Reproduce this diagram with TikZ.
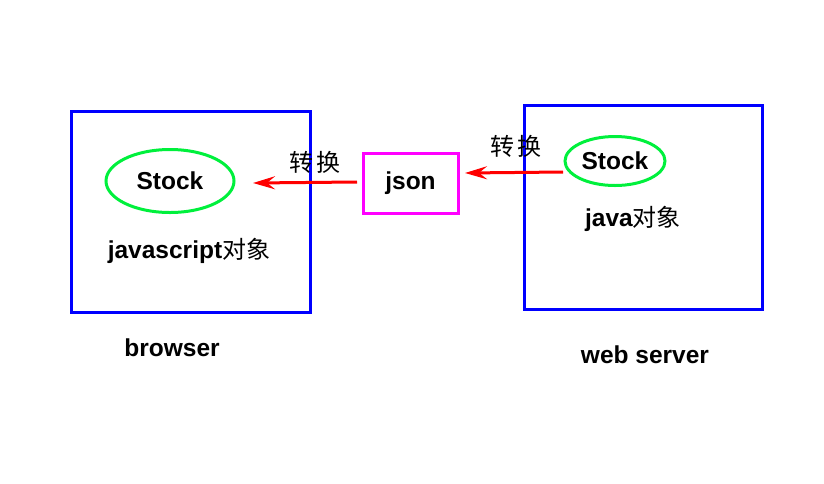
\documentclass[tikz,border=0pt]{standalone}
\usepackage{fontspec}
\setmainfont{Liberation Sans}
\newfontfamily\cjk{Noto Sans CJK SC}
\usetikzlibrary{arrows.meta,positioning}
\definecolor{boxblue}{RGB}{0,0,255}
\definecolor{ovalgreen}{RGB}{0,240,60}
\definecolor{jsonpink}{RGB}{255,0,255}
\definecolor{arrowred}{RGB}{255,0,0}
\tikzset{
  box/.style={draw=boxblue, line width=3pt, inner sep=0pt},
  oval/.style={draw=ovalgreen, line width=3pt, ellipse, inner sep=0pt, font=\fontsize{24.5}{26}\selectfont\bfseries},
  jsonbox/.style={draw=jsonpink, line width=3pt, inner sep=0pt, font=\fontsize{24.5}{26}\selectfont\bfseries},
  lbl/.style={font=\fontsize{24.5}{26}\selectfont\bfseries, inner sep=0pt},
  conv/.style={font=\fontsize{24}{26}\selectfont\cjk, inner sep=0pt},
  conv arrow/.style={draw=arrowred, line width=3pt, -{Stealth[length=22pt,width=13pt,inset=8pt]}}
}
\newcommand{\cjkword}[1]{{\cjk\fontsize{24}{26}\selectfont\mdseries #1}}
\usetikzlibrary{shapes.geometric}
\begin{document}
\begin{tikzpicture}[x=1pt,y=-1pt]
	\useasboundingbox (0,0) rectangle (824,483);
	% browser side
	\node[box, minimum width=239pt, minimum height=201pt] (browser) at (190.5,211.5) {};
	\node[oval, minimum width=128pt, minimum height=63pt] (jsstock) at (170,181) {Stock};
	\node[lbl] (jsobj) at (189,251) {javascript\cjkword{对象}};
	\node[lbl] (browserlbl) at (172,348) {browser};
	% json in the middle
	\node[jsonbox, minimum width=95pt, minimum height=60pt] (json) at (410.5,183) {json};
	% web server side
	\node[box, minimum width=238pt, minimum height=204pt] (server) at (643,207) {};
	\node[oval, minimum width=100pt, minimum height=49pt] (jstock) at (615,161) {Stock};
	\node[lbl] (javaobj) at (633,219) {java\cjkword{对象}};
	\node[lbl] (serverlbl) at (645,355) {web server};
	% conversions
	\coordinate (jsonleft) at (357,182);
	\coordinate (jsin) at (253,183);
	\coordinate (stockleft) at (563,172);
	\coordinate (jsonin) at (465,173);
	\draw[conv arrow] (jsonleft) -- (jsin);
	\draw[conv arrow] (stockleft) -- (jsonin);
	\node[conv] (conv1) at (315,162) {转\,换};
	\node[conv] (conv2) at (516,146) {转\,换};
\end{tikzpicture}
\end{document}
